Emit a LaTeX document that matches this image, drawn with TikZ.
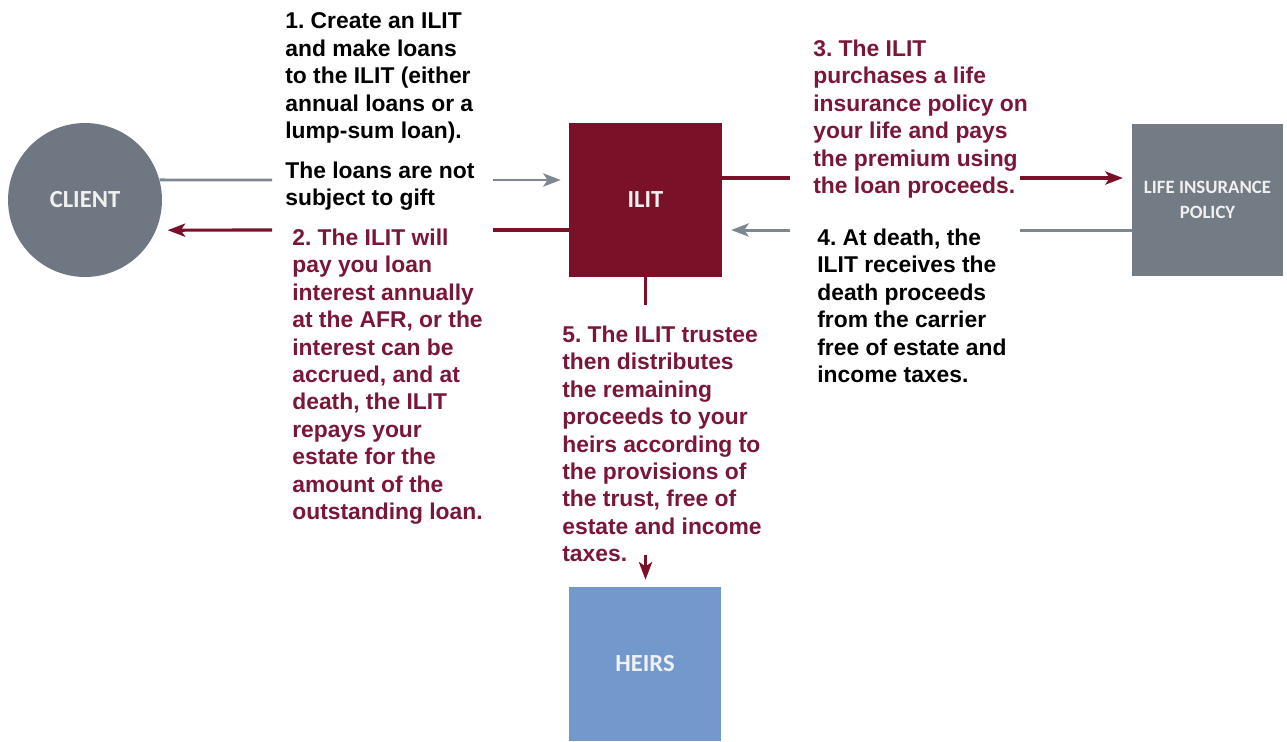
\documentclass[tikz,border=0pt]{standalone}
\usepackage{fontspec}
\setmainfont{Liberation Sans}
\newfontfamily\boxfont{Carlito}
\usetikzlibrary{arrows.meta}
\frenchspacing

\definecolor{ilitred}{HTML}{7A1128}
\definecolor{notered}{HTML}{7B1736}
\definecolor{clientgray}{HTML}{6F7882}
\definecolor{policygray}{HTML}{737B84}
\definecolor{linegray}{HTML}{7D8791}
\definecolor{heirsblue}{HTML}{7399CC}

\tikzset{
  box/.style={minimum width=3.06cm, minimum height=3.08cm, inner sep=0pt,
    text=white!94!black, font=\boxfont\bfseries\fontsize{14}{17}\selectfont},
  note/.style={anchor=north west, align=left, inner sep=0pt,
    font=\bfseries\fontsize{13}{15.6}\selectfont},
  rednote/.style={note, text=notered},
  gline/.style={draw=linegray, line width=1.7pt},
  rline/.style={draw=ilitred, line width=1.8pt},
  tip/.style={-{Stealth[length=10pt,width=7.5pt,inset=2.5pt]}}
}

\begin{document}
\begin{tikzpicture}[x=0.02cm, y=-0.02cm]
\useasboundingbox (0,0) rectangle (1287,741);

% the four parties
\node[box, circle, minimum size=3.08cm, fill=clientgray] (client) at (85,200) {CLIENT};
\node[box, fill=ilitred] (ilit) at (645.5,200) {ILIT};
\node[box, fill=policygray, minimum width=3.02cm, minimum height=3.04cm, align=center,
  font=\boxfont\bfseries\fontsize{10.7}{14.6}\selectfont] (policy) at (1207.5,200)
  {LIFE INSURANCE\\POLICY};
\node[box, fill=heirsblue] (heirs) at (645,664) {HEIRS};

% the steps (top of first line)
\node[note] (step1) at (285,12.5) {1. Create an ILIT\\and make loans\\to the ILIT (either\\annual loans or a\\lump-sum loan).\\[7pt]The loans are not\\subject to gift};
\node[rednote] (step2) at (292,228.5) {2. The ILIT will\\pay you loan\\interest annually\\at the AFR, or the\\interest can be\\accrued, and at\\death, the ILIT\\repays your\\estate for the\\amount of the\\outstanding loan.};
\node[rednote] (step3) at (813,39.5) {3. The ILIT\\purchases a life\\insurance policy on\\your life and pays\\the premium using\\the loan proceeds.};
\node[note] (step4) at (817,228.5) {4. At death, the\\ILIT receives the\\death proceeds\\from the carrier\\free of estate and\\income taxes.};
\node[rednote] (step5) at (562,325.5) {5. The ILIT trustee\\then distributes\\the remaining\\proceeds to your\\heirs according to\\the provisions of\\the trust, free of\\estate and income\\taxes.};

% line ends beside the texts
\coordinate (gap1a) at (272,180);
\coordinate (gap1b) at (493,180);
\coordinate (gap2a) at (493,230);
\coordinate (gap2b) at (272,230);
\coordinate (gap3a) at (790,178);
\coordinate (gap3b) at (1020,178);
\coordinate (gap4a) at (1020,230);
\coordinate (gap4b) at (790,230);
\coordinate (gap5a) at (645.5,305);
\coordinate (gap5b) at (645.5,555);

% 1: client -> ilit
\draw[gline] (client.15) -- (gap1a);
\draw[gline, tip, shorten >=4.5pt] (gap1b) -- (gap1b -| ilit.west);
% 2: ilit -> client
\draw[rline] (gap2a -| ilit.west) -- (gap2a);
\draw[rline, tip, shorten >=6.5pt] (gap2b) -- (client.-23);
% 3: ilit -> policy
\draw[rline] (gap3a -| ilit.east) -- (gap3a);
\draw[rline, tip, shorten >=5pt] (gap3b) -- (gap3b -| policy.west);
% 4: policy -> ilit
\draw[gline] (gap4a -| policy.west) -- (gap4a);
\draw[gline, tip, shorten >=5pt] (gap4b) -- (gap4b -| ilit.east);
% 5: ilit -> heirs
\draw[rline] (ilit.south) -- (gap5a);
\draw[rline, tip, shorten >=4pt] (gap5b) -- (gap5b |- heirs.north);
\end{tikzpicture}
\end{document}
